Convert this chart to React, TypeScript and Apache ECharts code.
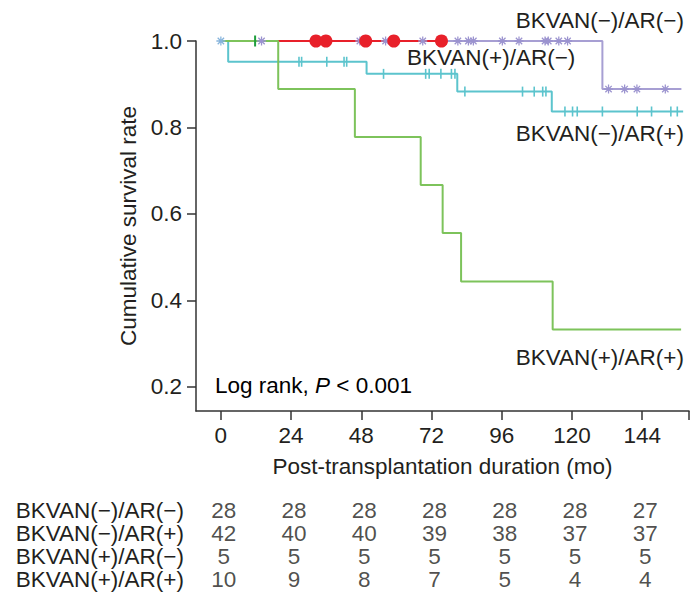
import React, { useEffect, useRef } from "react";
import * as echarts from "echarts";

// ---- data ----
const xTickValues = [0, 24, 48, 72, 96, 120, 144, 160];
const xLabelValues = [0, 24, 48, 72, 96, 120, 144];
const yTickValues = [0.2, 0.4, 0.6, 0.8, 1.0];

// BKVAN(−)/AR(−)
const nnTimes = [0, 130.4, 157.4];
const nnSurv = [1, 0.889, 0.889];
const nnCensor = [13.9, 47.5, 56.3, 69.0, 81.0, 84.6, 86.3, 96.2, 101.9, 110.8, 111.9, 115.5, 118.5, 132.5, 138.0, 142.2, 151.9];
const nnCensorAtZero = [0];

// BKVAN(−)/AR(+)
const npTimes = [0, 2.5, 49.8, 80.8, 113.1, 158.0];
const npSurv = [1, 0.952, 0.924, 0.883, 0.837, 0.837];
const npCensor = [26.7, 27.6, 36.2, 42.1, 43.0, 55.6, 70.0, 71.2, 75.2, 78.8, 80.0, 83.4, 103.1, 107.1, 110.0, 111.1, 117.6, 120.2, 121.8, 130.4, 142.3, 147.2, 153.8, 156.0];

// BKVAN(+)/AR(−)
const pnTimes = [0, 75.4];
const pnSurv = [1, 1];
const pnCensor = [32.5, 35.9, 49.5, 59.1, 75.4];

// BKVAN(+)/AR(+)
const ppTimes = [0, 19.6, 45.8, 68.3, 75.8, 82.1, 113.4, 157.3];
const ppSurv = [1, 0.889, 0.778, 0.667, 0.556, 0.444, 0.333, 0.333];
const ppCensor = [11.7];

// number at risk table
const riskGroups = ["BKVAN(−)/AR(−)", "BKVAN(−)/AR(+)", "BKVAN(+)/AR(−)", "BKVAN(+)/AR(+)"];
const riskTimes = [0, 24, 48, 72, 96, 120, 144];
const riskNN = [28, 28, 28, 28, 28, 28, 27];
const riskNP = [42, 40, 40, 39, 38, 37, 37];
const riskPN = [5, 5, 5, 5, 5, 5, 5];
const riskPP = [10, 9, 8, 7, 5, 4, 4];

const FONT = '"Liberation Sans", Arial, Helvetica, sans-serif';
const FS = 22.5;
const TXT = "#231f20";
const PURPLE = "#a79fd3";
const TEAL = "#5cc4cd";
const RED = "#e8202a";
const GREEN = "#7dc35b";

const ASTER =
  "path://M4.3 0h1.4v10h-1.4z M0 4.3h10v1.4h-10z M1.96 0.97L9.04 8.05L8.05 9.04L0.97 1.96z M9.04 1.96L1.96 9.04L0.97 8.05L8.05 0.97z";

function survAt(times: number[], surv: number[], t: number) {
  let v = surv[0];
  for (let i = 0; i < times.length; i++) if (times[i] <= t) v = surv[i];
  return v;
}
const stepData = (times: number[], surv: number[]) => times.map((t, i) => [t, surv[i]]);
const censorData = (c: number[], times: number[], surv: number[]) => c.map((t) => [t, survAt(times, surv, t)]);

export default function App() {
  const ref = useRef<HTMLDivElement>(null);
  useEffect(() => {
    if (!ref.current) return;
    const chart = echarts.init(ref.current, null, { renderer: "svg" });
    const lineSeries = (times: number[], surv: number[], color: string, z: number) => ({
      type: "line",
      step: "end",
      xAxisIndex: 0,
      yAxisIndex: 0,
      data: stepData(times, surv),
      symbol: "none",
      clip: false,
      z,
      lineStyle: { color, width: 2 },
    });
    const scatter = (data: number[][], symbol: string, size: any, color: string, z: number) => ({
      type: "scatter",
      xAxisIndex: 0,
      yAxisIndex: 0,
      data,
      symbol,
      symbolSize: size,
      clip: false,
      z,
      itemStyle: { color, opacity: 1 },
    });
    const riskRows = [riskNN, riskNP, riskPN, riskPP];
    const tableSeries = riskRows.map((row, r) => ({
      type: "scatter",
      xAxisIndex: 1,
      yAxisIndex: 1,
      data: row.map((v, i) => [riskTimes[i], riskGroups[r], v]),
      symbolSize: 1,
      itemStyle: { color: "rgba(0,0,0,0)" },
      label: {
        show: true,
        position: "inside",
        offset: [3, 0],
        formatter: (p: any) => String(p.value[2]),
        fontSize: FS,
        fontFamily: FONT,
        color: TXT,
      },
    }));
    const txt = (text: string, x: number, y: number, align: string) => ({
      type: "text",
      x,
      y,
      style: { text, fontSize: FS, fontFamily: FONT, fill: TXT, align, verticalAlign: "middle" },
    });

    chart.setOption({
      animation: false,
      textStyle: { fontFamily: FONT },
      grid: [
        { left: 196, right: 11, top: 41, height: 370 },
        { left: 196, right: 11, top: 498.5, height: 92 },
      ],
      xAxis: [
        {
          type: "value",
          gridIndex: 0,
          min: -8.5,
          max: 160,
          splitLine: { show: false },
          axisLine: { show: true, onZero: false, lineStyle: { color: "#333", width: 1.5 } },
          axisTick: { show: true, customValues: xTickValues, length: 9, lineStyle: { color: "#333", width: 1.5 } },
          axisLabel: { customValues: xLabelValues, fontSize: FS, color: TXT, margin: 13, fontFamily: FONT },
          name: "Post-transplantation duration (mo)",
          nameLocation: "middle",
          nameGap: 44,
          nameTextStyle: { fontSize: FS, color: TXT, fontFamily: FONT },
        },
        {
          type: "value",
          gridIndex: 1,
          min: -8.5,
          max: 160,
          show: false,
        },
      ],
      yAxis: [
        {
          type: "value",
          gridIndex: 0,
          min: 0.1445,
          max: 1.0,
          splitLine: { show: false },
          axisLine: { show: true, onZero: false, lineStyle: { color: "#333", width: 1.5 } },
          axisTick: { show: true, customValues: yTickValues, length: 9, lineStyle: { color: "#333", width: 1.5 } },
          axisLabel: {
            customValues: yTickValues,
            fontSize: FS,
            color: TXT,
            margin: 14,
            fontFamily: FONT,
            formatter: (v: number) => v.toFixed(1),
          },
          name: "Cumulative survival rate",
          nameLocation: "middle",
          nameGap: 56,
          nameTextStyle: { fontSize: FS, color: TXT, fontFamily: FONT },
        },
        {
          type: "category",
          gridIndex: 1,
          data: riskGroups,
          inverse: true,
          axisLine: { show: false },
          axisTick: { show: false },
          splitLine: { show: false },
          axisLabel: { interval: 0, fontSize: FS, color: TXT, margin: 12, fontFamily: FONT },
        },
      ],
      graphic: [
        txt("BKVAN(−)/AR(−)", 684, 20, "right"),
        txt("BKVAN(+)/AR(−)", 407, 57, "left"),
        txt("BKVAN(−)/AR(+)", 684, 133, "right"),
        txt("BKVAN(+)/AR(+)", 684, 357, "right"),
        {
          type: "text",
          x: 215,
          y: 385,
          style: {
            text: "{a|Log rank, }{b|P}{a| < 0.001}",
            verticalAlign: "middle",
            rich: {
              a: { fontSize: FS, fontFamily: FONT, color: TXT },
              b: { fontSize: FS, fontFamily: FONT, color: TXT, fontStyle: "italic" },
            },
          },
        },
      ],
      series: [
        lineSeries(nnTimes, nnSurv, PURPLE, 2),
        lineSeries(npTimes, npSurv, TEAL, 3),
        lineSeries(pnTimes, pnSurv, RED, 4),
        lineSeries(ppTimes, ppSurv, GREEN, 5),
        scatter(censorData(nnCensor, nnTimes, nnSurv), ASTER, 9, "#9b93cf", 6),
        scatter(censorData(nnCensorAtZero, nnTimes, nnSurv), ASTER, 9, "#86b4dc", 6),
        scatter(censorData(npCensor, npTimes, npSurv), "rect", [1.6, 10], TEAL, 6),
        scatter(censorData(pnCensor, pnTimes, pnSurv), "circle", 13, RED, 7),
        scatter(censorData(ppCensor, ppTimes, ppSurv), "rect", [2, 11], "#1f9e3d", 8),
        ...tableSeries,
      ],
    } as any);
    return () => chart.dispose();
  }, []);
  return <div ref={ref} style={{ position: "absolute", left: 0, top: 0, width: 700, height: 606 }} />;
}
